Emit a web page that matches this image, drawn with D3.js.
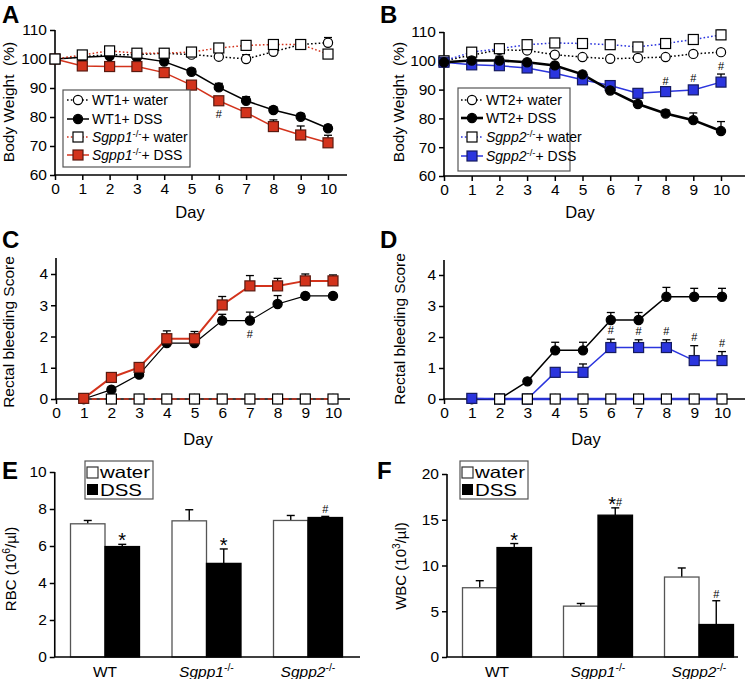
<!DOCTYPE html>
<html><head><meta charset="utf-8">
<script src="https://cdn.jsdelivr.net/npm/d3@7"></script>
<style>body{margin:0;background:#fff}svg{display:block}text{font-family:"Liberation Sans",Arial,Helvetica,sans-serif;fill:#000}</style>
</head><body>
<svg id="c" width="750" height="679"></svg>
<script>
// ---------- DATA ----------
const days = [0,1,2,3,4,5,6,7,8,9,10];
const daysFrom1 = [1,2,3,4,5,6,7,8,9,10];
const daysFrom2 = [2,3,4,5,6,7,8,9,10];
const dayTicks = [0,1,2,3,4,5,6,7,8,9,10];
const weightTicks = [60,70,80,90,100,110];
const scoreTicks = [0,1,2,3,4];

// Panel A
const wt1Water      = [100,100.8,101.5,101.5,102,101.5,100.8,100,102.5,105,105.6];
const wt1WaterErr   = [0,0,0,0,0,0,0,1.5,0,0,1.8];
const sgpp1Water    = [100,101.4,102.8,102,102,102.4,103.8,104.7,105,105,101.7];
const sgpp1WaterErr = [0,0,0,0,0,0,0,0,0,0,0];
const wt1Dss        = [100,100.6,101,100.5,99.1,95.6,90.2,85.6,82.4,80.1,76.1];
const wt1DssErr     = [0,0,0,0,0,1.1,1.4,1.4,1.1,1.1,1.1];
const sgpp1Dss      = [100,97.6,97.4,97.4,95.3,91,85.6,81.5,76.7,73.8,71.1];
const sgpp1DssErr   = [0,0,0,0,0,0,1.1,0.9,2.3,3.1,2.6];

// Panel B
const wt2Water      = [100,102,103.8,103.6,102.1,101.3,100.7,101,101.3,102.4,103];
const wt2WaterErr   = [0,0,0,0,0,0,0,0,0,0,0];
const sgpp2Water    = [100,103,104.2,105.6,106.2,106,105.6,104.8,106,107.4,109];
const sgpp2WaterErr = [0,0,0,0,0,0,0,0,1.3,1.5,1.6];
const wt2Dss        = [99.5,100.1,100.1,99.5,98.4,95.3,89.7,85,81.7,79.4,75.6];
const wt2DssErr     = [0,0,1.5,0,0,0,0,0,1.2,2.5,3.3];
const sgpp2Dss      = [99.5,98.6,98.3,97.5,95.7,93.4,91.4,88.7,89.3,89.9,92.6];
const sgpp2DssErr   = [0,0,0,0,0,0,0,0,1,1.2,2.8];

// Panel C (days 1..10)
const cWtDss        = [0,0.3,0.78,1.79,1.79,2.51,2.51,3.04,3.3,3.3];
const cWtDssErr     = [0,0,0,0.1,0.1,0.2,0.27,0.27,0,0];
const cSgpp1Dss     = [0.02,0.69,1.01,1.93,1.93,3.01,3.62,3.62,3.78,3.78];
const cSgpp1DssErr  = [0,0,0.1,0.25,0.23,0.27,0.33,0.24,0.22,0.19];
const cWater        = [0,0,0,0,0,0,0,0,0];   // days 2..10
const cWaterErr     = [0,0,0,0,0,0,0,0,0];

// Panel D (days 1..10)
const dWtDss        = [0,0,0.57,1.57,1.57,2.55,2.55,3.3,3.3,3.3];
const dWtDssErr     = [0,0,0,0.26,0.26,0.24,0.24,0.3,0.27,0.27];
const dSgpp2Dss     = [0.02,0,0,0.86,0.86,1.66,1.66,1.66,1.24,1.24];
const dSgpp2DssErr  = [0,0,0,0,0.27,0.27,0.25,0.25,0.48,0.29];
const dWater        = [0,0,0,0,0,0,0,0,0];   // days 2..10
const dWaterErr     = [0,0,0,0,0,0,0,0,0];

// Panels E/F
const genotypes   = ["WT","Sgpp1","Sgpp2"];
const rbcTicks    = [0,2,4,6,8,10];
const rbcWater    = [7.2,7.36,7.38];
const rbcWaterErr = [0.18,0.6,0.27];
const rbcDss      = [5.97,5.06,7.54];
const rbcDssErr   = [0.12,0.78,0.06];
const rbcMarks    = ["*","*","#"];
const wbcTicks    = [0,5,10,15,20];
const wbcWater    = [7.57,5.56,8.74];
const wbcWaterErr = [0.77,0.29,0.99];
const wbcDss      = [11.96,15.5,3.55];
const wbcDssErr   = [0.44,0.8,2.6];
const wbcMarks    = ["*","*#","#"];

// ---------- DRAW ----------
const RED="#d3331c", BLUE="#2b35de", REDSTROKE="#5a1a10", BLUESTROKE="#141a60";
const svg = d3.select("#c");
const fmt = d3.format("d");

function genoLabel(sel, name, suffix){
  if(name==="WT"){ sel.append("tspan").text("WT"+(suffix||"")); return; }
  sel.append("tspan").attr("font-style","italic").text(name);
  sel.append("tspan").attr("font-size","0.68em").attr("dy","-0.55em").text("-/-");
  if(suffix) sel.append("tspan").attr("dy","0.38em").text(suffix);
}

function marker(g, type, cx, cy, fill, stroke){
  if(type==="circle") g.append("circle").attr("cx",cx).attr("cy",cy).attr("r",4.6)
     .attr("fill",fill).attr("stroke",stroke).attr("stroke-width",1.2);
  else g.append("rect").attr("x",cx-5).attr("y",cy-5).attr("width",10).attr("height",10)
     .attr("fill",fill).attr("stroke",stroke).attr("stroke-width",1.2);
}

function axes(g, x, y, xTicks, yTicks, xEnd, yTop){
  const ax = g.append("g").attr("transform",`translate(0,${y.range()[0]})`)
    .call(d3.axisBottom(x).tickValues(xTicks).tickFormat(fmt).tickSize(5).tickPadding(3).tickSizeOuter(0));
  const ay = g.append("g").attr("transform",`translate(${x.range()[0]},0)`)
    .call(d3.axisLeft(y).tickValues(yTicks).tickFormat(fmt).tickSize(5).tickPadding(3).tickSizeOuter(0));
  [ax,ay].forEach(a=>{ a.select(".domain").remove();
    a.selectAll("line").attr("stroke","#000").attr("stroke-width",1.5);
    a.selectAll("text").attr("font-size",15.5).attr("fill","#000"); });
  g.append("line").attr("x1",x.range()[0]-0.75).attr("x2",xEnd).attr("y1",y.range()[0]).attr("y2",y.range()[0])
    .attr("stroke","#000").attr("stroke-width",1.6);
  g.append("line").attr("x1",x.range()[0]).attr("x2",x.range()[0]).attr("y1",y.range()[0]).attr("y2",yTop)
    .attr("stroke","#000").attr("stroke-width",1.6);
}

function linePanel(cfg){
  const g = svg.append("g");
  const x = d3.scaleLinear().domain([0,10]).range(cfg.xr);
  const y = d3.scaleLinear().domain(cfg.yd).range(cfg.yr);
  axes(g, x, y, dayTicks, cfg.yTicks, cfg.xEnd, cfg.yTop);
  const line = d3.line().x(d=>x(d[0])).y(d=>y(d[1]));
  cfg.series.forEach(s=>{
    const pts = s.days.map((d,i)=>[d,s.v[i],s.e[i]]);
    g.append("path").attr("d",line(pts)).attr("fill","none").attr("stroke",s.color)
      .attr("stroke-width",s.lw||1.5).attr("stroke-dasharray",s.dash||null);
  });
  cfg.series.forEach(s=>{
    const pts = s.days.map((d,i)=>[d,s.v[i],s.e[i]]);
    pts.forEach(p=>{ if(p[2]>0){
      const cx=x(p[0]), y0=y(p[1]), y1=y(p[1]+p[2]);
      g.append("line").attr("x1",cx).attr("x2",cx).attr("y1",y0).attr("y2",y1).attr("stroke","#000").attr("stroke-width",1.3);
      g.append("line").attr("x1",cx-4).attr("x2",cx+4).attr("y1",y1).attr("y2",y1).attr("stroke","#000").attr("stroke-width",1.3);
    }});
    pts.forEach(p=>marker(g, s.type, x(p[0]), y(p[1]), s.fill, s.stroke));
  });
  (cfg.hashes||[]).forEach(h=>{
    g.append("text").attr("x",x(h.day)).attr("y",y(h.val)+h.dy).attr("text-anchor","middle")
      .attr("font-size",11).text("#");
  });
  g.append("text").attr("x",cfg.dayX).attr("y",cfg.dayY).attr("text-anchor","middle").attr("font-size",16.5).text("Day");
  g.append("text").attr("transform",`translate(${cfg.ylx},${cfg.yly}) rotate(-90)`).attr("text-anchor","middle")
    .attr("font-size",15.5).style("white-space","pre").text(cfg.ylabel);
  g.append("text").attr("x",cfg.letter[1]).attr("y",cfg.letter[2]).attr("font-size",24).attr("font-weight","bold").text(cfg.letter[0]);
  if(cfg.legend){
    const L=cfg.legend;
    g.append("rect").attr("x",L.x0).attr("y",L.y0).attr("width",L.x1-L.x0).attr("height",L.y1-L.y0)
      .attr("fill","#fff").attr("stroke","#555").attr("stroke-width",1.2);
    L.items.forEach((it,i)=>{
      const cy=L.rows[i];
      g.append("line").attr("x1",L.sx0).attr("x2",L.sx1).attr("y1",cy).attr("y2",cy)
        .attr("stroke",it.s.color).attr("stroke-width",it.s.lw||1.5).attr("stroke-dasharray",it.s.dash||null);
      marker(g,it.s.type,(L.sx0+L.sx1)/2,cy,it.s.fill,it.s.stroke);
      const t=g.append("text").attr("x",L.tx).attr("y",cy+5).attr("font-size",14);
      genoLabel(t,it.name,it.suffix);
    });
  }
}

const DOT="1.6,2.2";
// Panel A
const sA = {
  wtW:{days,v:wt1Water,e:wt1WaterErr,type:"circle",fill:"#fff",stroke:"#000",color:"#000",dash:DOT},
  wtD:{days,v:wt1Dss,e:wt1DssErr,type:"circle",fill:"#000",stroke:"#000",color:"#000"},
  kW:{days,v:sgpp1Water,e:sgpp1WaterErr,type:"square",fill:"#fff",stroke:"#000",color:RED,dash:DOT},
  kD:{days,v:sgpp1Dss,e:sgpp1DssErr,type:"square",fill:RED,stroke:REDSTROKE,color:RED}
};
linePanel({xr:[55,328],yd:[60,110],yr:[175,30],yTicks:weightTicks,xEnd:347,yTop:30,
  series:[sA.wtW,sA.wtD,sA.kD,sA.kW],
  hashes:[{day:6,val:sgpp1Dss[6],dy:17}],
  dayX:190,dayY:218,ylx:14,yly:102,ylabel:"Body Weight  (%)",letter:["A",2,23],
  legend:{x0:63,x1:190,y0:90,y1:167,rows:[100,119,137,155],sx0:67,sx1:89,tx:92,
    items:[{s:sA.wtW,name:"WT",suffix:"1+ water"},{s:sA.wtD,name:"WT",suffix:"1+ DSS"},
           {s:sA.kW,name:"Sgpp1",suffix:"+ water"},{s:sA.kD,name:"Sgpp1",suffix:"+ DSS"}]}});

// Panel B
const sB = {
  wtW:{days,v:wt2Water,e:wt2WaterErr,type:"circle",fill:"#fff",stroke:"#000",color:"#000",dash:DOT},
  wtD:{days,v:wt2Dss,e:wt2DssErr,type:"circle",fill:"#000",stroke:"#000",color:"#000",lw:2.6},
  kW:{days,v:sgpp2Water,e:sgpp2WaterErr,type:"square",fill:"#fff",stroke:"#000",color:BLUE,dash:DOT},
  kD:{days,v:sgpp2Dss,e:sgpp2DssErr,type:"square",fill:BLUE,stroke:BLUESTROKE,color:BLUE}
};
linePanel({xr:[444,721],yd:[60,110],yr:[176,32],yTicks:weightTicks,xEnd:745,yTop:32,
  series:[sB.wtW,sB.kW,sB.kD,sB.wtD],
  hashes:[{day:8,val:sgpp2Dss[8]+sgpp2DssErr[8],dy:-4},{day:9,val:sgpp2Dss[9]+sgpp2DssErr[9],dy:-4},{day:10,val:sgpp2Dss[10]+sgpp2DssErr[10],dy:-4}],
  dayX:580,dayY:218,ylx:404,yly:102,ylabel:"Body Weight  (%)",letter:["B",380,23],
  legend:{x0:458,x1:570,y0:88,y1:171,rows:[100,118,137,156],sx0:461,sx1:483,tx:486,
    items:[{s:sB.wtW,name:"WT",suffix:"2+ water"},{s:sB.wtD,name:"WT",suffix:"2+ DSS"},
           {s:sB.kW,name:"Sgpp2",suffix:"+ water"},{s:sB.kD,name:"Sgpp2",suffix:"+ DSS"}]}});

// Panel C
linePanel({xr:[56,333],yd:[0,4],yr:[399,274],yTicks:scoreTicks,xEnd:350,yTop:258,
  series:[
    {days:daysFrom1,v:[0,0,0,0,0,0,0,0,0,0],e:[0,0,0,0,0,0,0,0,0,0],type:"circle",fill:"#fff",stroke:"#000",color:RED,dash:"5,3",lw:1.5},
    {days:daysFrom1,v:cWtDss,e:cWtDssErr,type:"circle",fill:"#000",stroke:"#000",color:"#000",lw:1.2},
    {days:daysFrom1,v:cSgpp1Dss,e:cSgpp1DssErr,type:"square",fill:RED,stroke:REDSTROKE,color:RED,lw:2},
    {days:daysFrom2,v:cWater,e:cWaterErr,type:"square",fill:"#fff",stroke:"#000",color:"#000",lw:0.1}
  ],
  hashes:[{day:7,val:cWtDss[6],dy:17}],
  dayX:198,dayY:445,ylx:14,yly:332,ylabel:"Rectal bleeding Score",letter:["C",2,248]});

// Panel D
linePanel({xr:[444,722],yd:[0,4],yr:[399,275],yTicks:scoreTicks,xEnd:745,yTop:260,
  series:[
    {days:daysFrom1,v:[0,0,0,0,0,0,0,0,0,0],e:[0,0,0,0,0,0,0,0,0,0],type:"circle",fill:"#fff",stroke:"#000",color:BLUE,lw:2.5},
    {days:daysFrom1,v:dWtDss,e:dWtDssErr,type:"circle",fill:"#000",stroke:"#000",color:"#000",lw:1.5},
    {days:daysFrom1,v:dSgpp2Dss,e:dSgpp2DssErr,type:"square",fill:BLUE,stroke:BLUESTROKE,color:BLUE,lw:1.5},
    {days:daysFrom2,v:dWater,e:dWaterErr,type:"square",fill:"#fff",stroke:"#000",color:"#000",lw:0.1}
  ],
  hashes:[6,7,8,9,10].map(d=>({day:d,val:dSgpp2Dss[d-1]+dSgpp2DssErr[d-1],dy:-5})),
  dayX:586,dayY:445,ylx:405,yly:329,ylabel:"Rectal bleeding Score",letter:["D",380,248]});

// Bar panels
function barPanel(cfg){
  const g = svg.append("g");
  const x = d3.scaleBand().domain(genotypes).range(cfg.xr).padding(0);
  const y = d3.scaleLinear().domain(cfg.yd).range(cfg.yr);
  const bw = 34.5;
  const ay = g.append("g").attr("transform",`translate(${cfg.xr[0]+0.5},0)`)
    .call(d3.axisLeft(y).tickValues(cfg.yTicks).tickFormat(fmt).tickSize(5).tickPadding(3).tickSizeOuter(0));
  ay.select(".domain").remove();
  ay.selectAll("line").attr("stroke","#000").attr("stroke-width",1.5);
  ay.selectAll("text").attr("font-size",15.5);
  const bars=[{v:cfg.water,e:cfg.waterErr,off:-bw,fill:"#fff"},{v:cfg.dss,e:cfg.dssErr,off:0,fill:"#000"}];
  bars.forEach(b=>{
    genotypes.forEach((gn,i)=>{
      const cx = x(gn)+x.bandwidth()/2 + b.off;
      const top=y(b.v[i]), et=y(b.v[i]+b.e[i]);
      g.append("line").attr("x1",cx+bw/2).attr("x2",cx+bw/2).attr("y1",top).attr("y2",et).attr("stroke","#000").attr("stroke-width",1.4);
      g.append("line").attr("x1",cx+bw/2-4).attr("x2",cx+bw/2+4).attr("y1",et).attr("y2",et).attr("stroke","#000").attr("stroke-width",1.4);
      g.append("rect").attr("x",cx).attr("y",top).attr("width",bw).attr("height",y(0)-top)
        .attr("fill",b.fill).attr("stroke",b.fill==="#fff"?"#555":"#000").attr("stroke-width",1.3);
    });
  });
  genotypes.forEach((gn,i)=>{
    const cx=x(gn)+x.bandwidth()/2+bw/2, et=y(cfg.dss[i]+cfg.dssErr[i]);
    const m=cfg.marks[i];
    const t=g.append("text").attr("x",cx).attr("y",et-3).attr("text-anchor","middle");
    if(m.includes("*")) t.append("tspan").attr("font-size",20).attr("dy","0.3em").text("*");
    if(m.includes("#")) t.append("tspan").attr("font-size",11).attr("dy",m.includes("*")?"-0.4em":"0").text("#");
    const lab=g.append("text").attr("x",x(gn)+x.bandwidth()/2).attr("y",677).attr("text-anchor","middle").attr("font-size",15.5);
    genoLabel(lab,gn,"");
  });
  g.append("line").attr("x1",cfg.xr[0]).attr("x2",cfg.xEnd).attr("y1",y(0)).attr("y2",y(0)).attr("stroke","#000").attr("stroke-width",1.6);
  g.append("line").attr("x1",cfg.xr[0]+0.5).attr("x2",cfg.xr[0]+0.5).attr("y1",y(0)).attr("y2",y.range()[1]).attr("stroke","#000").attr("stroke-width",1.6);
  const yl=g.append("text").attr("transform",`translate(${cfg.ylx},${cfg.yly}) rotate(-90)`).attr("text-anchor","middle").attr("font-size",15);
  yl.append("tspan").text(cfg.ylab[0]);
  yl.append("tspan").attr("font-size","0.68em").attr("dy","-0.55em").text(cfg.ylab[1]);
  yl.append("tspan").attr("dy","0.38em").text(cfg.ylab[2]);
  g.append("text").attr("x",cfg.letter[1]).attr("y",cfg.letter[2]).attr("font-size",24).attr("font-weight","bold").text(cfg.letter[0]);
  const L=cfg.leg;
  g.append("rect").attr("x",L[0]).attr("y",461).attr("width",68).attr("height",38).attr("fill","#fff").attr("stroke","#555").attr("stroke-width",1.2);
  g.append("rect").attr("x",L[0]+2).attr("y",467).attr("width",11).attr("height",11).attr("fill","#fff").attr("stroke","#333").attr("stroke-width",1.2);
  g.append("rect").attr("x",L[0]+2).attr("y",484).attr("width",11).attr("height",11).attr("fill","#000");
  g.append("text").attr("x",L[0]+15).attr("y",477.5).attr("font-size",16.5).attr("textLength",50).attr("lengthAdjust","spacingAndGlyphs").text("water");
  g.append("text").attr("x",L[0]+15).attr("y",496).attr("font-size",16.5).attr("textLength",42).attr("lengthAdjust","spacingAndGlyphs").text("DSS");
}
barPanel({xr:[54.25,358.75],xEnd:360,yd:[0,10],yr:[657,472],yTicks:rbcTicks,water:rbcWater,waterErr:rbcWaterErr,
  dss:rbcDss,dssErr:rbcDssErr,marks:rbcMarks,ylx:16,yly:569,ylab:["RBC (10","6","/µl)"],letter:["E",2,479],leg:[85]});
barPanel({xr:[446.5,749.5],xEnd:738,yd:[0,20],yr:[657,474],yTicks:wbcTicks,water:wbcWater,waterErr:wbcWaterErr,
  dss:wbcDss,dssErr:wbcDssErr,marks:wbcMarks,ylx:406,yly:566,ylab:["WBC (10","3","/µl)"],letter:["F",377,479],leg:[460]});
</script>
</body></html>
